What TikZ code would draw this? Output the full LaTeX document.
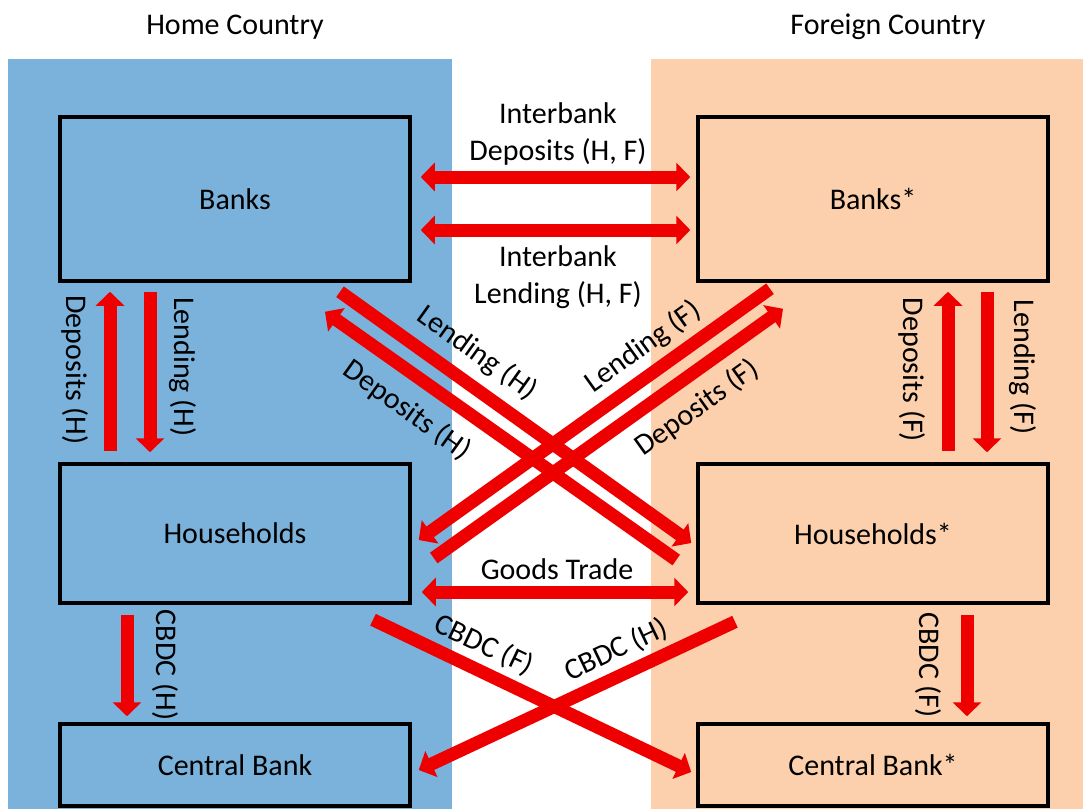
\documentclass[tikz,border=0pt]{standalone}
\usepackage{fontspec}
\setmainfont{Carlito}
\usetikzlibrary{arrows.meta,calc}
\definecolor{homeblue}{RGB}{122,178,219}
\definecolor{foreignpeach}{RGB}{252,208,172}
\definecolor{flowred}{RGB}{238,0,0}
\begin{document}
\begin{tikzpicture}[x=1pt,y=-1pt,
  every node/.style={font=\fontsize{30}{37}\selectfont},
  sector/.style={draw=black,line width=3.5pt,minimum width=350pt,inner sep=0pt},
  flow/.style={draw=flowred,line width=13pt,-{Triangle[length=14pt,width=28pt]}},
  twoway/.style={flow,{Triangle[length=14pt,width=28pt]}-{Triangle[length=14pt,width=28pt]}},
  lbl/.style={inner sep=0pt}]
\useasboundingbox (0,0) rectangle (1083,809);
% country panels
\fill[homeblue] (8,59) rectangle (452,809);
\fill[foreignpeach] (651,59) rectangle (1083,809);
\node[lbl] (homettl) at (235,27) {Home Country};
\node[lbl] (forttl) at (888,27) {Foreign Country};
% sectors, home side
\node[sector,minimum height=164pt] (banks) at (235,199) {Banks};
\node[sector,minimum height=139pt] (hh) at (235,533.5) {Households};
\node[sector,minimum height=82pt] (cb) at (235,765) {Central Bank};
% sectors, foreign side
\node[sector,minimum height=164pt] (banksF) at (873,199) {Banks*};
\node[sector,minimum height=139pt] (hhF) at (873,533.5) {Households*};
\node[sector,minimum height=82pt] (cbF) at (873,765) {Central Bank*};
% domestic flows
\draw[flow] ($(hh.north)+(-125,-11)$) -- ($(banks.south)+(-125,9)$);
\draw[flow] ($(banks.south)+(-85,9)$) -- ($(hh.north)+(-85,-10)$);
\draw[flow] ($(hhF.north)+(75,-11)$) -- ($(banksF.south)+(75,9)$);
\draw[flow] ($(banksF.south)+(114,9)$) -- ($(hhF.north)+(114,-10)$);
\draw[flow] ($(hh.south)+(-108,10)$) -- ($(cb.north)+(-108,-6)$);
\draw[flow] ($(hhF.south)+(94,10)$) -- ($(cbF.north)+(94,-6)$);
\node[lbl,rotate=-90] (depH) at (75,370) {Deposits (H)};
\node[lbl,rotate=-90] (lendH) at (183,367) {Lending (H)};
\node[lbl,rotate=-90] (depF) at (912,370) {Deposits (F)};
\node[lbl,rotate=-90] (lendF) at (1023,367) {Lending (F)};
\node[lbl,rotate=-90] (cbdcHv) at (165,665) {CBDC (H)};
\node[lbl,rotate=-90] (cbdcFv) at (928,665) {CBDC (F)};
% interbank and trade flows
\draw[twoway] ($(banks.east)+(9,-22)$) -- ($(banksF.west)+(-6,-22)$);
\draw[twoway] ($(banks.east)+(9,31)$) -- ($(banksF.west)+(-6,31)$);
\draw[twoway] ($(hh.east)+(10,58.5)$) -- ($(hhF.west)+(-8,58.5)$);
\node[lbl,align=center] (ibdep) at (558,134) {Interbank\\Deposits (H, F)};
\node[lbl,align=center] (iblend) at (558,277) {Interbank\\Lending (H, F)};
\node[lbl] (goods) at (557,569) {Goods Trade};
% cross-border flows
\draw[flow] ($(banks.south)+(105,9)$) -- ($(hhF.west)+(-5,9.5)$);
\draw[flow] ($(hhF.west)+(-20,26.5)$) -- ($(banks.south)+(90,29)$);
\draw[flow] ($(banksF.south)+(-103,6)$) -- ($(hh.east)+(7,6.5)$);
\draw[flow] ($(hh.east)+(22,24.5)$) -- ($(banksF.south)+(-90,26)$);
\draw[flow] ($(hh.south)+(138,15)$) -- ($(cbF.west)+(-5,7)$);
\draw[flow] ($(hhF.south)+(-138,17)$) -- ($(cb.east)+(7,5)$);
\node[lbl,rotate=-35.6] (xlendH) at (477,353) {Lending (H)};
\node[lbl,rotate=-35.6] (xdepH) at (407,410) {Deposits (H)};
\node[lbl,rotate=35.6] (xlendF) at (643,347) {Lending (F)};
\node[lbl,rotate=35.6] (xdepF) at (697,408) {Deposits (F)};
\node[lbl,rotate=-25.5] (xcbdcF) at (484,645) {CBDC (F)};
\node[lbl,rotate=25.5] (xcbdcH) at (616,650) {CBDC (H)};
\end{tikzpicture}
\end{document}
